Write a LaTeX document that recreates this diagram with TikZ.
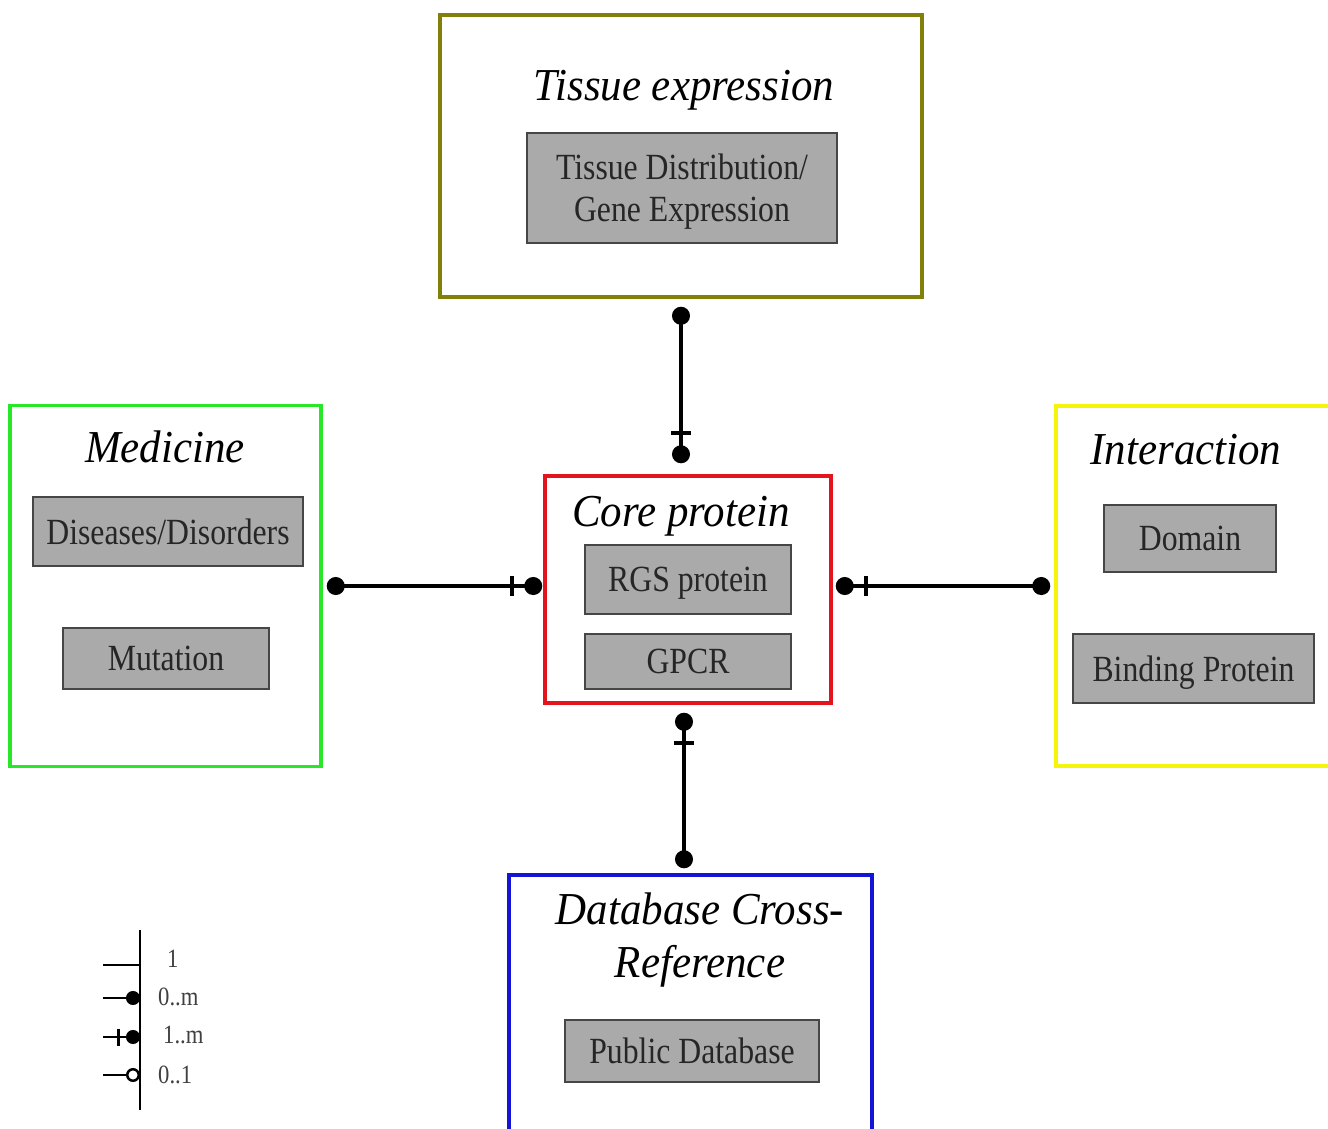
\documentclass[tikz,border=0pt]{standalone}
\usepackage{fontspec}
\setmainfont{Liberation Serif}
\newfontfamily\boxfont[FakeStretch=0.86]{Liberation Serif}
\newfontfamily\titlefont[FakeStretch=0.94]{Liberation Serif}
\usetikzlibrary{arrows.meta}

\definecolor{tissuecol}{RGB}{128,128,10}
\definecolor{medcol}{RGB}{40,230,40}
\definecolor{corecol}{RGB}{228,20,30}
\definecolor{intercol}{RGB}{245,245,10}
\definecolor{dbcol}{RGB}{20,20,215}
\definecolor{boxgray}{RGB}{170,170,170}
\definecolor{boxline}{RGB}{70,70,70}

\tikzset{
  frame/.style={draw, line width=0.7mm, inner sep=0},
  item/.style={draw=boxline, fill=boxgray, line width=0.4mm, inner sep=0, align=center,
    text depth=0pt, text=black!85, font=\boxfont\fontsize{21}{24}\selectfont},
  heading/.style={align=center, font=\titlefont\itshape\fontsize{26}{30}\selectfont},
  onemany/.style={line width=0.75mm,
    {Circle[length=3.6mm]}-{Bar[width=4mm,line width=0.8mm,sep=2mm]Circle[length=3.6mm]}},
  legendline/.style={line width=0.5mm},
  legendtext/.style={anchor=west, text=black!75, font=\boxfont\fontsize{15}{17}\selectfont}
}

\begin{document}
\begin{tikzpicture}[x=0.2mm, y=-0.2mm]
  \useasboundingbox (0,0) rectangle (1328,1128);

  % outer frames
  \node[frame, draw=tissuecol, minimum width=96.4mm, minimum height=56.4mm] (tissue) at (681,156) {};
  \node[frame, draw=medcol, minimum width=62.2mm, minimum height=72.2mm] (medicine) at (165.5,586) {};
  \node[frame, draw=corecol, minimum width=57.2mm, minimum height=45.4mm] (core) at (688,589.5) {};
  \node[frame, draw=intercol, minimum width=56.8mm, minimum height=72mm] (interaction) at (1198,586) {};
  \node[frame, draw=dbcol, minimum width=72.6mm, minimum height=53mm] (database) at (690.5,1007.5) {};

  % headings
  \node[heading] (tissuetitle) at (684,90) {Tissue expression};
  \node[heading] (medtitle) at (165,447) {Medicine};
  \node[heading] (coretitle) at (681,516) {Core protein};
  \node[heading] (intertitle) at (1186,450) {Interaction};
  \node[heading] (dbtitle) at (700,940) {Database Cross-\\Reference};

  % grey entries
  \node[item, minimum width=62mm, minimum height=22mm] (tdist) at (682,188) {Tissue Distribution/\\Gene Expression};
  \node[item, minimum width=54mm, minimum height=13.8mm] (diseases) at (168,531.5) {Diseases/Disorders};
  \node[item, minimum width=41.2mm, minimum height=12.2mm] (mutation) at (166,658.5) {Mutation};
  \node[item, minimum width=41.2mm, minimum height=13.8mm] (rgs) at (688,579.5) {RGS protein};
  \node[item, minimum width=41.2mm, minimum height=11mm] (gpcr) at (688,661.5) {GPCR};
  \node[item, minimum width=34.4mm, minimum height=13.4mm] (domain) at (1190,538.5) {Domain};
  \node[item, minimum width=48.2mm, minimum height=13.8mm] (binding) at (1193.5,668.5) {Binding Protein};
  \node[item, minimum width=50.8mm, minimum height=12.4mm] (pubdb) at (692,1051) {Public Database};

  % relations to the core
  \draw[onemany, shorten <=1.6mm, shorten >=2.2mm] (tissue.south) -- (tissue.south |- core.north);
  \draw[onemany, shorten <=0.8mm, shorten >=0.2mm] (medicine.east) -- (medicine.east -| core.west);
  \draw[onemany, shorten <=0.8mm, shorten >=0.6mm] (interaction.west) -- (interaction.west -| core.east);
  \draw[onemany, shorten <=1mm, shorten >=1.6mm] ([xshift=-1.3mm]database.north) -- ([xshift=-1.3mm]database.north |- core.south);

  % legend
  \coordinate (lgtop) at (140,930);
  \coordinate (lgbot) at (140,1110);
  \draw[legendline] (lgtop) -- (lgbot);
  \draw[legendline] (103,965) -- (140,965);
  \draw[legendline, -{Circle[length=2.8mm]}] (103,998) -- (140,998);
  \draw[legendline, -{Bar[width=3.4mm,line width=0.6mm,sep=1.2mm]Circle[length=2.8mm]}] (103,1037) -- (140,1037);
  \draw[legendline, -{Circle[open,length=2.8mm,fill=white]}] (103,1075) -- (140,1075);
  \node[legendtext] (lgone) at (161,959) {1};
  \node[legendtext] (lgzm) at (152,997) {0..m};
  \node[legendtext] (lgom) at (157,1035) {1..m};
  \node[legendtext] (lgzo) at (152,1075) {0..1};
\end{tikzpicture}
\end{document}
